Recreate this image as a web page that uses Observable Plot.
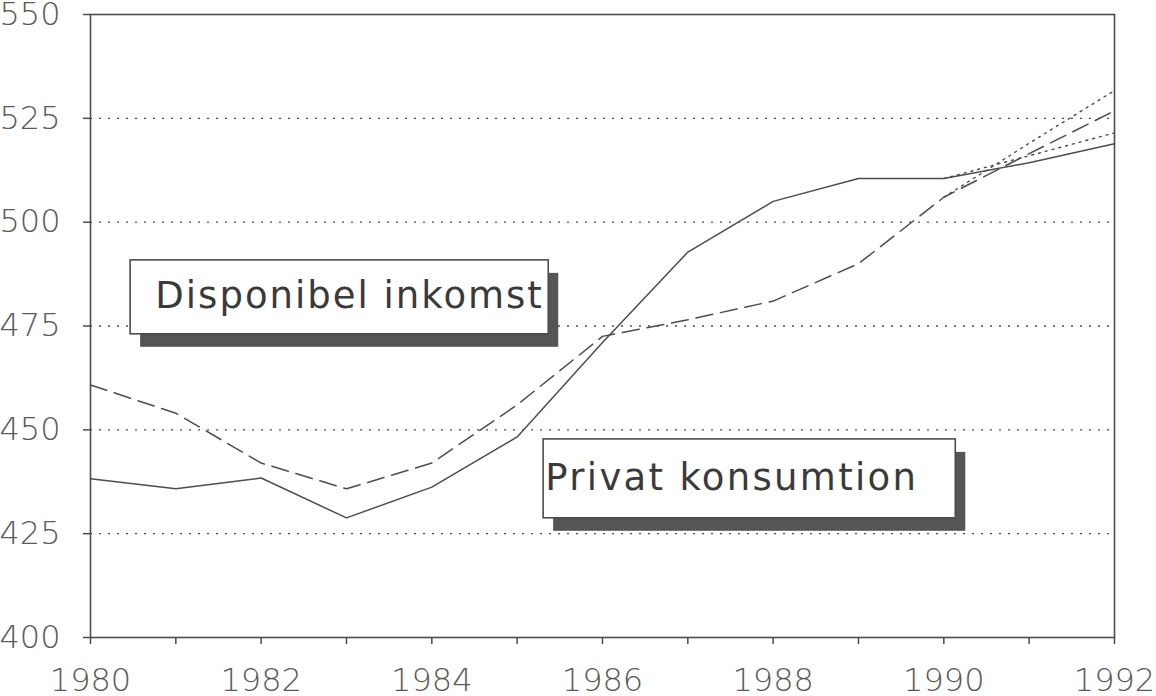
<!DOCTYPE html>
<html><head><meta charset="utf-8">
<script src="https://cdn.jsdelivr.net/npm/d3@7"></script>
<script src="https://cdn.jsdelivr.net/npm/@observablehq/plot@0.6"></script>
<style>html,body{margin:0;padding:0;background:#fff} svg{display:block}</style>
</head><body><div id="chart"></div>
<script>
// ---- data ----
const years = [1980,1981,1982,1983,1984,1985,1986,1987,1988,1989,1990,1991,1992];
const privatKonsumtion  = [438.2,435.8,438.4,428.8,436.2,448.3,471.0,492.8,505.0,510.5,510.5,514.3,518.9];
const disponibelInkomst = [460.8,454.0,442.0,435.8,442.0,456.0,472.5,476.5,481.0,490.0,506.0,516.5,526.8];
const forecastYears = [1990,1991,1992];
const forecastInkomst    = [506.0,519.0,531.7];
const forecastKonsumtion = [510.5,516.0,521.5];
const yTicks = [400,425,450,475,500,525,550];
const gridValues = [425,450,475,500,525];
const labelTexts = ["Disponibel inkomst","Privat konsumtion"];
// annotation boxes (data coordinates)
const boxX1 = [1980.47,1985.31];
const boxX2 = [1985.37,1990.14];
const boxY1 = [490.8,447.7];
const boxY2 = [473.0,428.7];
const textX = [1980.76,1985.33];
const textY = [482.1,438.4];

const series = (name, ys, xs) => ys.map((v,i)=>({series:name, year: xs[i], value: v}));
const solid = series("Privat konsumtion", privatKonsumtion, years);
const dashed = series("Disponibel inkomst", disponibelInkomst, years);
const fc1 = series("Prognos inkomst", forecastInkomst, forecastYears);
const fc2 = series("Prognos konsumtion", forecastKonsumtion, forecastYears);
const boxes = labelTexts.map((t,i)=>({text:t, x1:boxX1[i], x2:boxX2[i], y1:boxY1[i], y2:boxY2[i], tx:textX[i], ty:textY[i]}));

const ink = "#4d4d4d";
const chart = Plot.plot({
  width: 1156, height: 696,
  marginLeft: 90, marginRight: 42, marginTop: 14, marginBottom: 59,
  style: {fontFamily: "'DejaVu Sans', sans-serif", fontWeight: 200, color: "#5a5a5a", background: "#fff"},
  x: {domain: [1980,1992]},
  y: {domain: [400,550]},
  marks: [
    Plot.ruleY(gridValues, {stroke: ink, strokeWidth: 1.4, strokeDasharray: "2,7"}),
    Plot.line(fc1, {x:"year", y:"value", stroke: ink, strokeWidth: 1.4, strokeDasharray: "2,5"}),
    Plot.line(fc2, {x:"year", y:"value", stroke: ink, strokeWidth: 1.4, strokeDasharray: "2,5"}),
    Plot.line(dashed, {x:"year", y:"value", stroke: ink, strokeWidth: 1.5, strokeDasharray: "17,8"}),
    Plot.line(solid, {x:"year", y:"value", stroke: ink, strokeWidth: 1.5}),
    Plot.frame({stroke: ink, strokeWidth: 1.6}),
    Plot.axisY(yTicks, {tickSize: 7, tickPadding: 23, fontSize: 32, label: null, stroke: ink, strokeWidth: 1.5}),
    Plot.axisX(years, {tickSize: 7, tickPadding: 24, fontSize: 32, label: null, stroke: ink, strokeWidth: 1.5,
      tickFormat: d => d % 2 === 0 ? String(d) : ""}),
    Plot.rect(boxes, {x1:"x1", x2:"x2", y1:"y1", y2:"y2", fill: "#555", dx: 10, dy: 13}),
    Plot.rect(boxes, {x1:"x1", x2:"x2", y1:"y1", y2:"y2", fill: "#fff", stroke: ink, strokeWidth: 1.6}),
    Plot.text(boxes, {x:"tx", y:"ty", text:"text", textAnchor:"start", lineAnchor:"middle",
      fontSize: 37, fill: "#3a3a3a", fontWeight: 400})
  ]
});
d3.select(chart).selectAll("text").each(function(){
  const t = this.textContent;
  if (t === labelTexts[0]) this.setAttribute("letter-spacing", "2.0");
  if (t === labelTexts[1]) this.setAttribute("letter-spacing", "2.3");
});
document.getElementById("chart").append(chart);
</script>
</body></html>
